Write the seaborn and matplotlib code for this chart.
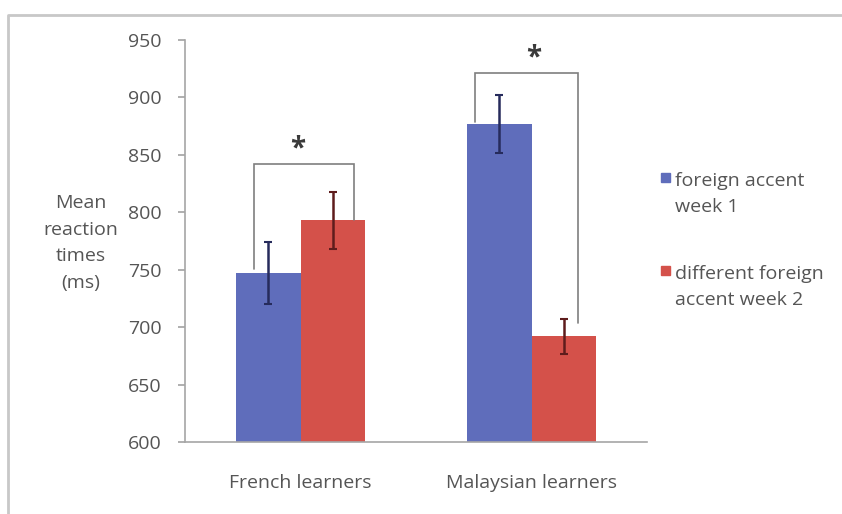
import matplotlib
matplotlib.use("Agg")
import matplotlib.pyplot as plt
from matplotlib.patches import Rectangle
import seaborn as sns
import pandas as pd

# Mean reaction times (ms) and error-bar half-widths
groups = ["French learners", "Malaysian learners"]
conditions = ["foreign accent\nweek 1", "different foreign\naccent week 2"]
week1_means = [747, 877]
week2_means = [793, 692]
week1_err = [27, 25]
week2_err = [25, 15]
yticks = [600, 650, 700, 750, 800, 850, 900, 950]

# significance brackets: (left height, right height, top height)
brackets = [(751, 793, 842), (879, 704, 921)]

BLUE = "#5f6dbb"
RED = "#d4514a"
TEXT = "#555555"
AXIS = "#a6a6a6"
FS = 14

sns.set_theme(style="white")
plt.rcParams["font.family"] = ["Open Sans", "DejaVu Sans"]

df = pd.DataFrame({
    "group": groups * 2,
    "condition": [conditions[0]] * 2 + [conditions[1]] * 2,
    "rt": week1_means + week2_means,
})

fig = plt.figure(figsize=(8.42, 5.14), dpi=100)
ax = fig.add_axes([185 / 842, 1 - 442 / 514, (647 - 185) / 842, (442 - 40) / 514])

sns.barplot(data=df, x="group", y="rt", hue="condition", hue_order=conditions,
            palette=[BLUE, RED], width=0.56, errorbar=None, saturation=1,
            linewidth=0, ax=ax, legend=False)

# error bars centred on each drawn bar
bars = ax.patches
errs = week1_err + week2_err
vals = week1_means + week2_means
err_cols = ["#262b5c", "#262b5c", "#5e1c1c", "#5e1c1c"]
for bar, v, e, c in zip(bars, vals, errs, err_cols):
    cx = bar.get_x() + bar.get_width() / 2
    ax.errorbar(cx, v, yerr=e, fmt="none", ecolor=c, elinewidth=1.8,
                capsize=3, capthick=1.5, zorder=4)

# significance brackets with stars
offsets = [(-0.2, 0.23), (-0.245, 0.2)]
for i, ((lh, rh, top), (dl, dr)) in enumerate(zip(brackets, offsets)):
    xl, xr = i + dl, i + dr
    ax.plot([xl, xl, xr, xr], [lh, top, top, rh], color="#7f7f7f", lw=1.2,
            zorder=3, solid_joinstyle="miter")
    ax.text(i - 0.01 + 0.02 * i, top + 13, "*", ha="center", va="center",
            fontsize=20, fontweight="bold", color="#3a3a3a")

ax.set_xlim(-0.5, 1.5)
ax.set_ylim(600, 950)
ax.set_yticks(yticks)
ax.set_yticklabels([str(t) for t in yticks], fontsize=FS, color=TEXT)
ax.set_xticks([0, 1])
ax.set_xticklabels(groups, fontsize=FS, color=TEXT)
ax.set_xticks([-0.5, 0.5, 1.5], minor=True)
ax.tick_params(axis="x", which="major", length=0, pad=23)
ax.tick_params(axis="x", which="minor", length=5, color=AXIS, direction="out")
ax.tick_params(axis="y", length=5, color=AXIS, direction="out", pad=12, left=True)
ax.set_xlabel("")
ax.set_ylabel("")
for s in ["top", "right"]:
    ax.spines[s].set_visible(False)
for s in ["left", "bottom"]:
    ax.spines[s].set_color(AXIS)
    ax.spines[s].set_linewidth(1.2)

fig.text(81 / 842, 1 - 243 / 514, "Mean\nreaction\ntimes\n(ms)", ha="center",
         va="center", fontsize=FS, color=TEXT, linespacing=1.62)

# legend entries: (colour, square centre y, text block centre y, label)
leg = [(BLUE, 177, 194, conditions[0]), (RED, 270, 287, conditions[1])]
for col, sq, tc, lab in leg:
    fig.patches.append(Rectangle((661 / 842, 1 - (sq + 5) / 514), 9 / 842, 9 / 514,
                                 transform=fig.transFigure, color=col, figure=fig))
    fig.text(675 / 842, 1 - tc / 514, lab, ha="left", va="center",
             fontsize=FS, color=TEXT, linespacing=1.55)

# chart frame
fig.add_artist(plt.Line2D([8 / 842, 8 / 842, 1], [0, 1 - 15 / 514, 1 - 15 / 514],
                          transform=fig.transFigure, color="#c8c8c8", lw=2))

fig.savefig("out.png", dpi=100)
